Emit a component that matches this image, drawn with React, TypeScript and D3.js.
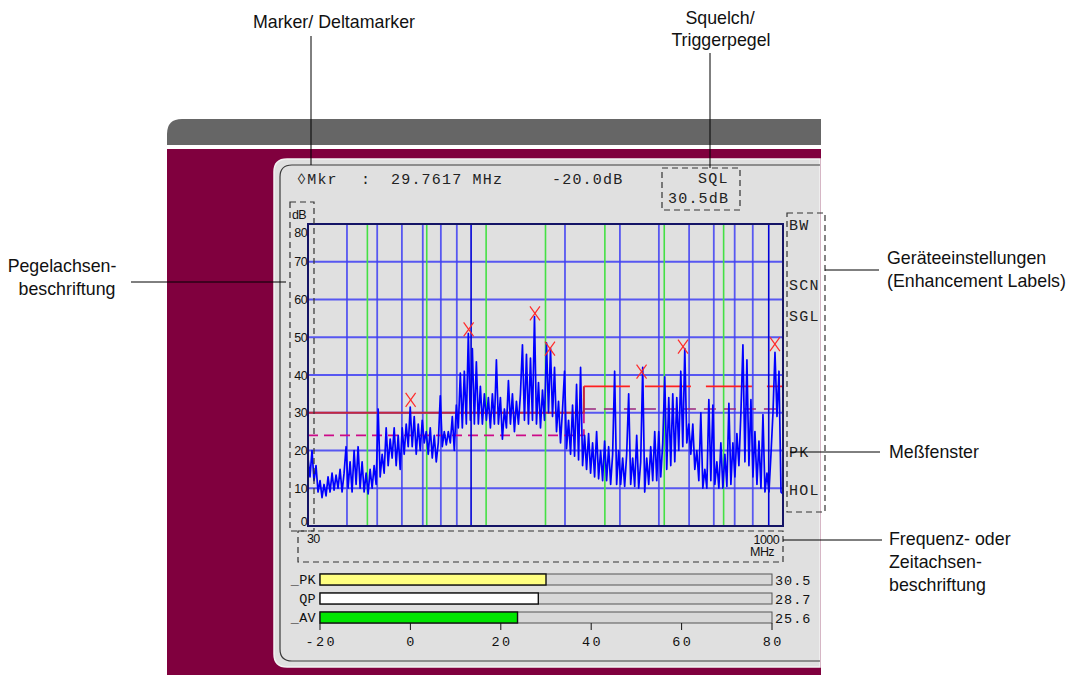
import React from 'react';
import * as d3 from 'd3';

// ---------- data ----------
const freqStart = 30;
const freqStop = 1000;
const levelTicks = [0, 10, 20, 30, 40, 50, 60, 70, 80];
const freqGridMHz = [40, 50, 60, 70, 80, 90, 200, 300, 400, 500, 600, 700, 800];
const freqGridDarkMHz = [100, 900];
const freqDivisions = 8;

// sweep trace (dB), equally spaced sweep points over the log frequency axis
const traceDb = [
  18, 13, 20, 12, 16, 9, 12, 7.5, 11, 8,
  13, 9, 14, 9.5, 13.5, 10, 15, 9, 14, 21,
  10, 17, 9, 20, 11, 21, 10, 17, 9, 14,
  8.5, 15, 10, 16, 11, 31, 13, 19, 14, 26,
  16, 23, 18, 26, 16, 24, 15, 26, 19, 27,
  21, 31.5, 21, 29, 19, 27, 20, 28, 22, 25,
  19, 26, 18, 24, 17, 22, 34.5, 21, 25, 21.5,
  25, 22, 29, 20, 32, 26, 40.5, 26, 41, 27,
  51, 28, 47, 27, 43.5, 27, 37, 27, 35, 28,
  34, 26, 35, 27, 44, 27, 34, 23, 31, 26,
  38.5, 27, 35, 25, 33, 27, 35, 48, 28, 45.5,
  27, 44.5, 28, 55.5, 27, 38, 26, 36, 28, 48.5,
  30, 47, 29, 42, 25, 33, 22, 31, 41, 20.5,
  28, 19, 32, 18.5, 37.5, 17.5, 42, 16, 24, 15,
  24.5, 14, 22, 13, 25, 12.5, 20, 12, 22.5, 12,
  21, 11, 19, 41, 11, 20, 11, 18, 10.5, 19,
  35, 11, 18, 10.5, 24, 10, 17, 42, 9, 18,
  11, 21, 12, 25, 12, 25, 13, 22, 39.5, 15,
  34, 16, 35, 17, 34, 20, 41, 21, 47, 22,
  27, 19, 27, 15, 20, 12, 30, 10, 15, 10,
  33.5, 12, 32, 11, 17, 10, 22, 10, 19, 10.5,
  32.5, 11, 22, 13, 24.5, 16, 30, 48, 17, 44,
  16, 33.5, 13, 25, 11, 22.5, 10, 29.5, 9, 14,
  9, 19, 30, 46, 29, 41, 9, 8.5,
];

const markerMHz = [64.0, 98.2, 160.2, 179, 352, 478, 942];
const markerDb = [33.4, 52.1, 56.3, 47.0, 40.9, 47.5, 48.2];

const limitMHz = [30, 230, 230, 1000];
const limitDb = [30, 30, 37, 37];
const marginDb = [24, 24, 31, 31];

const enhancementLabels = ['BW', 'SCN', 'SGL', 'PK', 'HOL'];

const meterNames = ['_PK', 'QP', '_AV'];
const meterLevels = [30.0, 28.3, 23.7];
const meterReadouts = ['30.5', '28.7', '25.6'];
const meterTicks = [-20, 0, 20, 40, 60, 80];

const markerText = ['\u25CAMkr', ':', '29.7617 MHz', '-20.0dB'];
const squelchText = ['SQL', '30.5dB'];

// ---------- component ----------
const mono = '"Liberation Mono", "Courier New", monospace';
const sans = '"Liberation Sans", Arial, Helvetica, sans-serif';

export default function App() {
  const x0 = 308, x1 = 783, yTop = 224, yBot = 526;
  const x = d3.scaleLog().domain([freqStart, freqStop]).range([x0, x1]);
  const y = d3.scaleLinear().domain([0, 80]).range([yBot, yTop]);
  const N = traceDb.length;
  const sweep: [number, number][] = traceDb.map((db, i) => [
    freqStart * Math.pow(freqStop / freqStart, i / (N - 1)),
    db,
  ]);
  const line = d3
    .line<[number, number]>()
    .x((d) => x(d[0]))
    .y((d) => y(d[1]));

  const limitPts: [number, number][] = limitMHz.map((f, i) => [f, limitDb[i]]);
  const marginPts: [number, number][] = limitMHz.map((f, i) => [f, marginDb[i]]);

  const m = d3.scaleLinear().domain([-20, 80]).range([320, 772]);
  const meterTop = [574, 593, 612];
  const meterH = 11;
  const meterFill = ['#ffff80', '#ffffff', '#00e600'];

  const enhY = [230, 290, 321, 457, 495];

  const gridBlue = '#4040f4';

  return (
    <svg
      width={1068}
      height={675}
      style={{ position: 'absolute', left: 0, top: 0, background: '#ffffff' }}
    >
      {/* device frame */}
      <path d="M167,145 L167,134 Q167,119 182,119 L821,119 L821,145 Z" fill="#666666" />
      <rect x={167} y={149} width={654} height={526} fill="#80003e" />
      <path
        d="M820,159 L287,159 Q274,159 274,172 L274,654 Q274,667 287,667 L820,667 Z"
        fill="#e0e0e0"
        stroke="#f2f2f2"
        strokeWidth={1.5}
      />
      <path
        d="M820,165 L292,165 Q280,165 280,177 L280,649 Q280,661 292,661 L820,661"
        fill="none"
        stroke="#3a3a3a"
        strokeWidth={1.2}
      />

      {/* top readout */}
      <g fontFamily={mono} fontSize={15} letterSpacing={1.2} fill="#222">
        <text x={297} y={184}>{markerText[0]}</text>
        <text x={361} y={184}>{markerText[1]}</text>
        <text x={391} y={184}>{markerText[2]}</text>
        <text x={552} y={184}>{markerText[3]}</text>
        <text x={698} y={183}>{squelchText[0]}</text>
        <text x={668} y={203}>{squelchText[1]}</text>
      </g>

      {/* plot area */}
      <rect x={x0} y={yTop} width={x1 - x0} height={yBot - yTop} fill="#e0e0e0" />
      {levelTicks
        .filter((v) => v > 0 && v < 80)
        .map((v) => (
          <line key={'h' + v} x1={x0} x2={x1} y1={y(v)} y2={y(v)} stroke={gridBlue} strokeWidth={2} opacity={0.85} />
        ))}
      {freqGridMHz.map((f) => (
        <line key={'v' + f} x1={x(f)} x2={x(f)} y1={yTop} y2={yBot} stroke={gridBlue} strokeWidth={1.8} opacity={0.85} />
      ))}
      {d3.range(1, freqDivisions).map((k) => {
        const gx = x0 + (k * (x1 - x0)) / freqDivisions;
        return <line key={'g' + k} x1={gx} x2={gx} y1={yTop} y2={yBot} stroke="#44e044" strokeWidth={1.6} />;
      })}

      {/* limit and margin lines */}
      <path d={line(limitPts.slice(0, 3)) || ''} fill="none" stroke="#c4283e" strokeWidth={2} />
      <path d={line(limitPts.slice(2)) || ''} fill="none" stroke="#ff2020" strokeWidth={1.6} strokeDasharray="46 15" />
      <path d={line(marginPts.slice(0, 3)) || ''} fill="none" stroke="#cc0a88" strokeWidth={1.6} strokeDasharray="10 6" />
      <path d={line(marginPts.slice(2)) || ''} fill="none" stroke="#98247e" strokeWidth={1.6} strokeDasharray="12 8" />

      {/* trace */}
      <path d={line(sweep) || ''} fill="none" stroke="#0000ff" strokeWidth={1.7} strokeLinejoin="round" />

      {freqGridDarkMHz.map((f) => (
        <line key={'d' + f} x1={x(f)} x2={x(f)} y1={yTop} y2={yBot} stroke="#0000d8" strokeWidth={1.6} />
      ))}

      {/* markers */}
      {markerMHz.map((f, i) => {
        const cx = x(f), cy = y(markerDb[i]);
        return (
          <g key={'m' + i} stroke="#ff2a2a" strokeWidth={1.2}>
            <line x1={cx - 5} y1={cy - 7} x2={cx + 5} y2={cy + 7} />
            <line x1={cx + 5} y1={cy - 7} x2={cx - 5} y2={cy + 7} />
          </g>
        );
      })}

      <rect x={x0} y={yTop} width={x1 - x0} height={yBot - yTop} fill="none" stroke="#141466" strokeWidth={2} />

      {/* level axis labels */}
      <g fontFamily={sans} fontSize={12.5} fill="#111" letterSpacing={-0.6}>
        <text x={292} y={219}>dB</text>
        {levelTicks.map((v) => (
          <text key={'l' + v} x={307} y={Math.min(526, Math.max(237, y(v) + 4.5))} textAnchor="end">
            {v}
          </text>
        ))}
        <text x={307} y={543}>{freqStart}</text>
        <text x={779} y={544} textAnchor="end">{freqStop}</text>
        <text x={774} y={556} textAnchor="end">MHz</text>
      </g>

      {/* enhancement labels */}
      <g fontFamily={mono} fontSize={15} letterSpacing={1.2} fill="#222">
        {enhancementLabels.map((t, i) => (
          <text key={t} x={789} y={enhY[i]}>{t}</text>
        ))}
      </g>

      {/* dashed boxes */}
      <g fill="none" stroke="#333" strokeWidth={1.2} strokeDasharray="6 4">
        <rect x={662} y={168} width={78} height={42} />
        <rect x={290} y={202} width={24} height={329} />
        <rect x={298} y={531} width={485} height={31} />
        <rect x={787} y={213} width={38} height={299} />
      </g>

      {/* meters */}
      {meterNames.map((name, i) => {
        const top = meterTop[i];
        return (
          <g key={name}>
            <rect x={m(-20)} y={top} width={m(80) - m(-20)} height={meterH} fill="#d8d8d8" stroke="#555" strokeWidth={1} />
            <rect x={m(-20)} y={top} width={m(meterLevels[i]) - m(-20)} height={meterH} fill={meterFill[i]} stroke="#111" strokeWidth={1.4} />
            <text x={316} y={top + 10} textAnchor="end" fontFamily={mono} fontSize={13.5} letterSpacing={0.3} fill="#111">
              {name}
            </text>
            <text x={775} y={top + 11} fontFamily={mono} fontSize={13.5} letterSpacing={1} fill="#111">
              {meterReadouts[i]}
            </text>
          </g>
        );
      })}
      {meterTicks.map((t) => (
        <g key={'mt' + t}>
          <line x1={m(t)} x2={m(t)} y1={623} y2={630} stroke="#111" strokeWidth={1} />
          <text x={m(t) + 1.2} y={646} textAnchor="middle" fontFamily={mono} fontSize={13.5} letterSpacing={2.4} fill="#111">
            {t}
          </text>
        </g>
      ))}

      {/* annotations */}
      <g stroke="#000" strokeWidth={1}>
        <line x1={311} x2={311} y1={36} y2={165} />
        <line x1={710} x2={710} y1={53} y2={168} />
        <line x1={131} x2={286} y1={282} y2={282} />
        <line x1={825} x2={879} y1={270} y2={270} />
        <line x1={790} x2={880} y1={452} y2={452} />
        <line x1={783} x2={882} y1={540} y2={540} />
      </g>
      <g fontFamily={sans} fontSize={17.8} fill="#111">
        <text x={334} y={28} textAnchor="middle">Marker/ Deltamarker</text>
        <text x={720} y={24} textAnchor="middle">Squelch/</text>
        <text x={721} y={46} textAnchor="middle">Triggerpegel</text>
        <text x={62} y={272} textAnchor="middle">Pegelachsen-</text>
        <text x={67} y={295} textAnchor="middle">beschriftung</text>
        <text x={887} y={264}>Geräteeinstellungen</text>
        <text x={887} y={287}>(Enhancement Labels)</text>
        <text x={889} y={458}>Meßfenster</text>
        <text x={889} y={545}>Frequenz- oder</text>
        <text x={889} y={568}>Zeitachsen-</text>
        <text x={889} y={591}>beschriftung</text>
      </g>
    </svg>
  );
}
